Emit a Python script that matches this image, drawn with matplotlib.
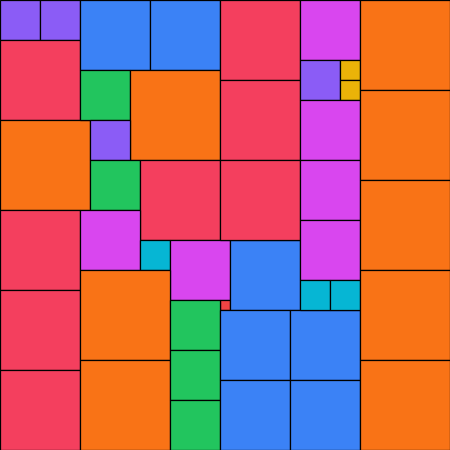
import matplotlib
matplotlib.use("Agg")
import matplotlib.pyplot as plt
from matplotlib.patches import Rectangle

# square side (grid units) -> colour
side_colors = {
    9: "#F97316",
    8: "#F43F5E",
    7: "#3B82F6",
    6: "#D946EF",
    5: "#22C55E",
    4: "#8B5CF6",
    3: "#06B6D4",
    2: "#EAB308",
    1: "#EF4444",
}

# packing of the 45x45 square: left edge, top edge, side
sq_x = [0, 4, 0, 0, 0, 0, 0,
        8, 15, 8, 13, 9, 9, 14, 8, 14, 17, 22, 8, 8, 17, 17, 17,
        23, 22, 29, 22, 29,
        22, 22, 22, 30, 30, 34, 34, 30, 30, 30, 30, 33,
        36, 36, 36, 36, 36]
sq_y = [0, 0, 4, 12, 21, 29, 37,
        0, 0, 7, 7, 12, 16, 16, 21, 24, 24, 30, 27, 36, 30, 35, 40,
        24, 31, 31, 38, 38,
        0, 8, 16, 0, 6, 6, 8, 10, 16, 22, 28, 28,
        0, 9, 18, 27, 36]
sq_side = [4, 4, 8, 9, 8, 8, 8,
           7, 7, 5, 9, 4, 5, 8, 6, 3, 6, 1, 9, 9, 5, 5, 5,
           7, 7, 7, 7, 7,
           8, 8, 8, 6, 4, 2, 2, 6, 6, 6, 3, 3,
           9, 9, 9, 9, 9]

fig = plt.figure(figsize=(4.5, 4.5), dpi=100)
ax = fig.add_axes([0, 0, 1, 1])

for x, y, s in zip(sq_x, sq_y, sq_side):
    ax.add_patch(Rectangle((x, y), s, s, facecolor=side_colors[s],
                           edgecolor="black", linewidth=0.9))

ax.set_xlim(0, 45)
ax.set_ylim(45, 0)
ax.axis("off")

fig.savefig("out.png", dpi=100)
